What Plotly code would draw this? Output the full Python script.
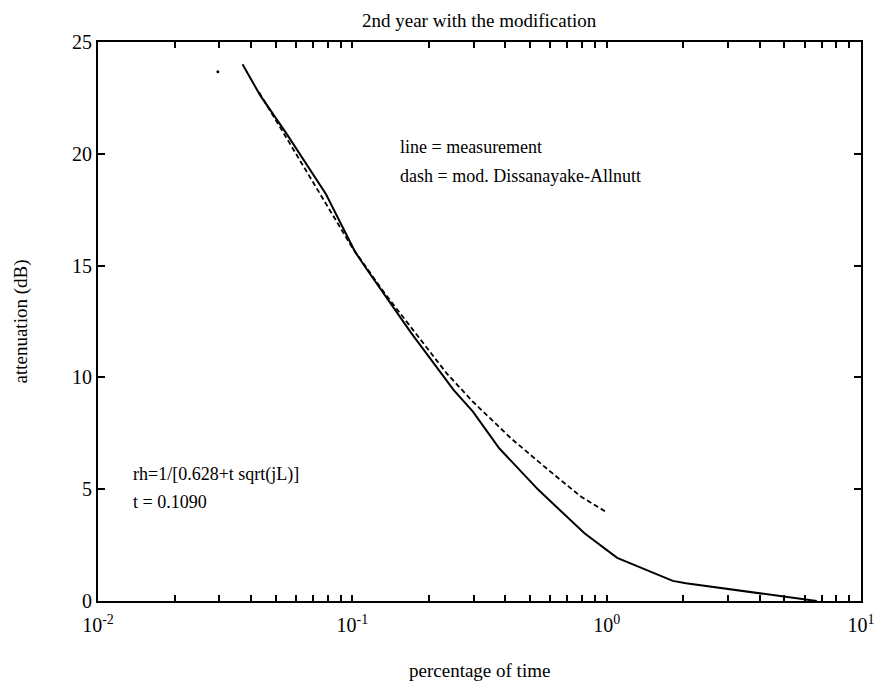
import numpy as np
import plotly.graph_objects as go

# measurement (solid)
meas_x = [0.037, 0.0435, 0.0551, 0.0787, 0.1027, 0.1122, 0.170, 0.250, 0.298, 0.378,
          0.540, 0.818, 1.10, 1.82, 2.05, 5.96, 6.7]
meas_y = [24.0, 22.6, 20.9, 18.2, 15.6, 14.95, 12.0, 9.44, 8.47, 6.83,
          4.96, 3.03, 1.93, 0.9, 0.79, 0.05, 0.0]

# mod. Dissanayake-Allnutt (dashed)
model_x = [0.043, 0.0741, 0.100, 0.134, 0.235, 0.298, 0.420, 0.590, 0.794, 1.006]
model_y = [22.75, 18.23, 15.8, 13.76, 10.18, 8.91, 7.28, 5.86, 4.66, 3.95]

# stray point
dot_x = [0.0296]
dot_y = [23.67]

x_decades = [0.01, 0.1, 1, 10]
x_decade_labels = ["10<sup>-2</sup>", "10<sup>-1</sup>", "10<sup>0</sup>", "10<sup>1</sup>"]
y_ticks = [0, 5, 10, 15, 20, 25]

FONT = "Liberation Serif"

tickvals, ticktext = [], []
for i, d in enumerate(x_decades[:-1]):
    for k in range(1, 10):
        tickvals.append(k * d)
        ticktext.append(x_decade_labels[i] if k == 1 else " ")
tickvals.append(x_decades[-1])
ticktext.append(x_decade_labels[-1])

fig = go.Figure()
fig.add_trace(go.Scatter(x=meas_x, y=meas_y, mode="lines",
                         line=dict(color="black", width=2), showlegend=False))
fig.add_trace(go.Scatter(x=model_x, y=model_y, mode="lines",
                         line=dict(color="black", width=1.8, dash="5px,3px"), showlegend=False))
fig.add_trace(go.Scatter(x=dot_x, y=dot_y, mode="markers",
                         marker=dict(color="black", size=3), showlegend=False))

fig.update_xaxes(type="log", range=[-2, 1], tickvals=tickvals, ticktext=ticktext,
                 tickangle=0, ticklabelstandoff=5,
                 ticks="inside", ticklen=6, tickwidth=1.5, tickcolor="black",
                 showline=True, linewidth=2, linecolor="black", mirror="ticks",
                 showgrid=False, zeroline=False, ticklabeloverflow="allow",
                 tickfont=dict(family=FONT, size=20, color="black"))
fig.update_yaxes(range=[0, 25], tickvals=y_ticks,
                 ticks="inside", ticklen=7, tickwidth=1.5, tickcolor="black",
                 showline=True, linewidth=2, linecolor="black", mirror="ticks",
                 showgrid=False, zeroline=False,
                 tickfont=dict(family=FONT, size=20, color="black"))

ann_font = dict(family=FONT, size=18, color="black")
annotations = [
    dict(text="2nd year with the modification", xref="paper", yref="paper", x=0.5, y=1,
         yanchor="middle", yshift=22, showarrow=False, font=dict(family=FONT, size=19, color="black")),
    dict(text="percentage of time", xref="paper", yref="paper", x=0.5, y=0,
         yanchor="middle", yshift=-69, showarrow=False, font=dict(family=FONT, size=19, color="black")),
    dict(text="attenuation (dB)", xref="paper", yref="paper", x=0, y=0.5,
         xanchor="center", xshift=-78, textangle=-90, showarrow=False,
         font=dict(family=FONT, size=19, color="black")),
    dict(text="line = measurement", xref="x", yref="y", x=np.log10(0.151), y=20.3,
         xanchor="left", yanchor="middle", showarrow=False, font=ann_font),
    dict(text="dash = mod. Dissanayake-Allnutt", xref="x", yref="y", x=np.log10(0.151), y=19.0,
         xanchor="left", yanchor="middle", showarrow=False, font=ann_font),
    dict(text="rh=1/[0.628+t sqrt(jL)]", xref="x", yref="y", x=np.log10(0.0135), y=5.65,
         xanchor="left", yanchor="middle", showarrow=False, font=ann_font),
    dict(text="t = 0.1090", xref="x", yref="y", x=np.log10(0.0135), y=4.45,
         xanchor="left", yanchor="middle", showarrow=False, font=ann_font),
]

fig.update_layout(width=885, height=685, margin=dict(l=98, r=10, t=42, b=84),
                  paper_bgcolor="white", plot_bgcolor="white",
                  annotations=annotations, showlegend=False)

fig.write_html("out.html", config={"displayModeBar": False},
               post_script="document.body.style.margin='0';document.body.style.overflow='hidden';")
